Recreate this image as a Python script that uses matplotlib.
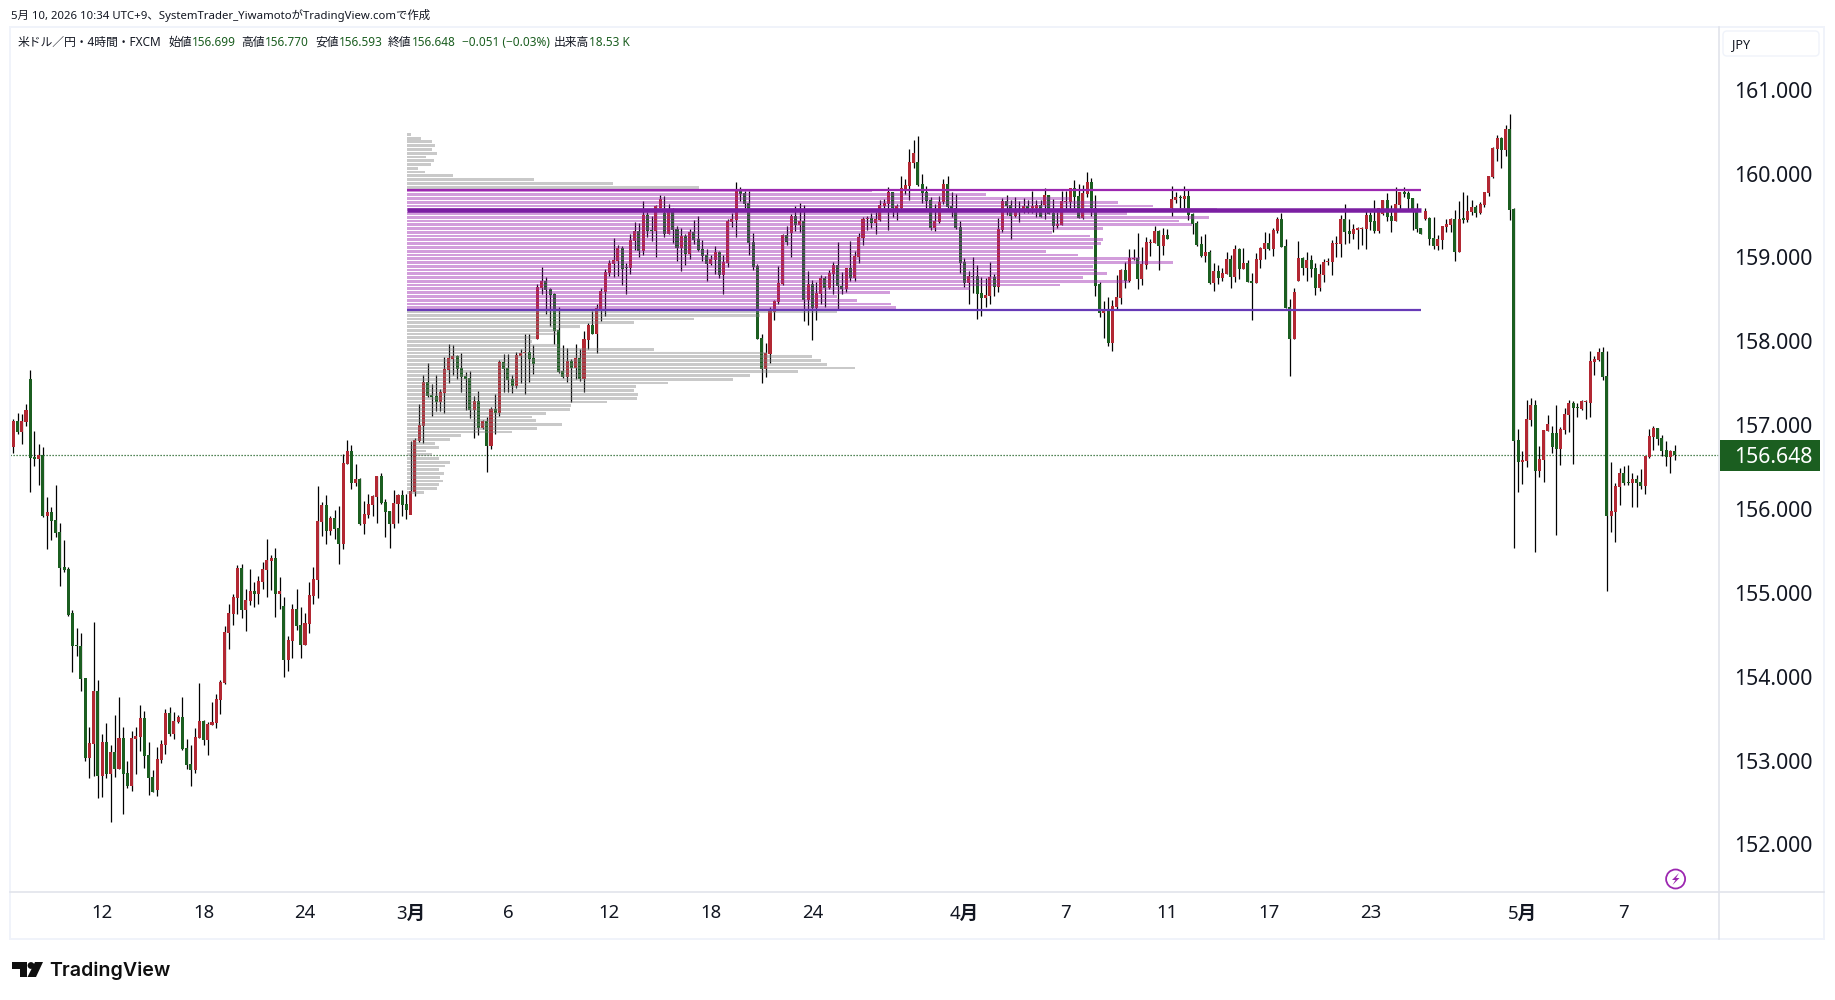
"""
USD/JPY 4H candlestick chart with a fixed-range volume profile
Output: out.png
"""

import numpy as np
import matplotlib
matplotlib.use("Agg")
import matplotlib.pyplot as plt
from matplotlib.patches import Circle, FancyBboxPatch, Polygon, Rectangle

plt.rcParams["font.family"] = ["Noto Sans", "Noto Sans CJK JP", "DejaVu Sans"]

# ── OHLC (4H) ────────────────────────────────────────────────────
opens = [
    156.74,157.05,156.92,157.04,157.56,156.63,156.60,156.65,155.92,155.97,
    155.87,155.73,155.31,155.29,154.76,154.38,154.37,153.99,153.04,153.20,
    153.84,152.82,153.23,152.85,153.11,152.91,153.28,152.86,152.70,153.26,
    153.29,153.51,153.07,152.81,152.66,153.01,153.19,153.57,153.32,153.47,
    153.53,153.16,152.97,152.89,153.28,153.48,153.25,153.43,153.45,153.73,
    153.93,154.53,154.75,154.94,155.30,154.80,154.91,155.03,154.99,155.14,
    155.28,155.38,155.42,154.99,154.85,154.21,154.43,154.81,154.62,154.38,
    154.63,154.97,155.16,155.85,156.05,155.74,155.90,155.78,155.59,156.54,
    156.70,156.32,156.36,155.83,155.93,156.05,156.15,156.40,156.09,155.98,
    155.83,156.07,156.17,156.07,155.93,156.21,156.82,157.00,157.52,
    157.36,157.35,157.28,157.39,157.66,157.80,157.83,157.69,157.59,157.57,
    157.19,157.29,156.97,157.05,156.76,157.20,157.15,157.76,157.69,157.56,
    157.47,157.83,157.87,157.88,157.81,158.03,158.64,158.72,158.63,158.57,
    158.14,157.65,157.58,157.77,157.69,157.81,157.56,158.02,158.20,158.09,
    158.39,158.59,158.82,158.93,158.96,159.12,158.89,158.88,159.20,159.32,
    159.08,159.51,159.33,159.32,159.60,159.53,159.28,159.55,159.34,159.12,
    159.26,159.05,159.31,159.22,159.10,159.03,158.93,158.98,159.07,158.80,
    158.94,159.43,159.45,159.80,159.77,159.65,159.19,158.90,158.04,157.68,
    157.85,158.35,158.47,158.69,159.27,159.30,159.50,159.39,159.44,158.50,
    158.69,158.40,158.57,158.76,158.64,158.81,158.91,158.67,158.63,158.88,
    158.76,159.01,159.24,159.46,159.47,159.41,159.45,159.62,159.64,159.79,
    159.57,159.60,159.82,159.86,160.13,160.14,159.88,159.79,159.69,159.36,
    159.43,159.67,159.88,159.62,159.59,159.37,158.95,158.70,158.78,158.78,
    158.58,158.52,158.55,158.77,158.65,159.33,159.68,159.63,159.50,159.56,
    159.57,159.62,159.60,159.60,159.63,159.63,159.75,159.53,159.38,159.39,
    159.67,159.67,159.83,159.74,159.47,159.76,159.90,159.59,158.69,158.34,
    158.37,157.99,158.41,158.52,158.86,158.72,158.99,159.00,158.75,158.92,
    159.18,159.18,159.32,159.14,159.27,159.59,159.69,159.73,159.70,159.74,
    159.52,159.41,159.16,159.02,159.07,158.70,158.84,158.76,158.81,158.99,
    158.77,159.11,158.87,158.94,158.72,158.70,158.97,159.11,159.18,159.11,
    159.32,159.46,159.14,158.41,158.03,158.72,159.00,158.88,158.97,158.88,
    158.64,158.80,158.95,158.95,159.17,159.17,159.46,159.32,159.29,159.33,
    159.34,159.34,159.51,159.44,159.32,159.52,159.69,159.50,159.44,159.63,
    159.79,159.77,159.71,159.55,159.36,159.46,159.47,159.24,159.14,159.21,
    159.37,159.39,159.46,159.07,159.47,159.45,159.55,159.61,159.53,159.63,
    159.77,159.96,160.30,160.43,160.29,160.54,159.58,156.83,156.57,156.58,
    157.07,157.25,156.46,156.59,156.93,156.91,156.91,156.72,156.95,157.13,
    157.27,157.22,157.20,157.28,157.27,157.76,157.78,157.88,157.59,155.92,
    155.97,156.27,156.43,156.33,156.32,156.36,156.33,156.28,156.63,156.86,
    156.97,156.85,156.71,156.63,156.699,
]
highs = [
    157.08,157.15,157.14,157.26,157.66,156.94,156.78,156.74,156.15,156.03,
    156.29,155.84,155.64,155.31,154.80,154.59,154.53,153.99,153.41,154.66,
    153.97,153.32,153.45,153.19,153.55,153.76,153.41,153.00,153.36,153.41,
    153.67,153.60,153.23,152.89,153.17,153.25,153.62,153.64,153.58,153.55,
    153.76,153.26,153.19,153.39,153.93,153.49,153.47,153.70,153.80,153.97,
    154.61,154.87,154.99,155.34,155.35,155.05,155.29,155.14,155.21,155.37,
    155.65,155.46,155.54,155.20,154.96,154.49,154.87,155.05,154.84,154.76,
    155.14,155.31,156.28,156.09,156.17,155.92,155.99,156.04,156.66,156.83,
    156.77,156.54,156.37,156.10,156.18,156.17,156.40,156.43,156.12,155.98,
    156.23,156.18,156.23,156.18,156.82,156.85,157.26,157.60,157.75,
    157.50,157.60,157.44,157.82,157.97,157.96,157.84,157.87,157.64,157.65,
    157.35,157.41,157.07,157.10,157.22,157.38,157.78,157.85,157.85,157.60,
    157.88,157.91,158.09,158.09,157.96,158.69,158.89,158.77,158.64,158.58,
    158.41,157.96,157.93,157.79,157.97,157.91,158.13,158.22,158.37,158.45,
    158.64,158.87,158.97,159.24,159.15,159.14,158.94,159.28,159.43,159.42,
    159.68,159.55,159.50,159.63,159.75,159.74,159.64,159.59,159.38,159.36,
    159.28,159.34,159.45,159.50,159.21,159.10,159.03,159.14,159.08,159.03,
    159.46,159.53,159.90,159.84,159.80,159.80,159.30,158.93,158.09,157.98,
    158.41,158.50,158.90,159.28,159.38,159.52,159.62,159.65,159.63,158.84,
    158.74,158.71,158.80,158.78,158.86,158.95,159.19,158.83,158.88,159.20,
    159.08,159.30,159.49,159.50,159.53,159.55,159.69,159.70,159.85,159.79,
    159.64,159.98,159.94,160.30,160.41,160.45,160.00,159.86,159.73,159.64,
    159.74,159.94,159.98,159.79,159.76,159.44,159.00,158.84,159.01,158.91,
    158.77,158.76,158.95,158.81,159.47,159.71,159.75,159.69,159.73,159.68,
    159.71,159.69,159.80,159.69,159.69,159.83,159.75,159.70,159.55,159.80,
    159.80,159.83,159.93,159.88,159.87,160.02,159.95,159.75,158.71,158.49,
    158.53,158.50,158.80,158.87,158.95,159.11,159.11,159.30,159.13,159.25,
    159.23,159.38,159.33,159.36,159.34,159.86,159.79,159.75,159.86,159.81,
    159.53,159.44,159.26,159.28,159.09,158.94,158.91,158.88,159.07,159.03,
    159.15,159.12,159.12,158.97,158.82,159.06,159.13,159.31,159.30,159.36,
    159.49,159.53,159.23,158.51,158.64,159.20,159.01,159.07,159.03,158.94,
    158.93,158.99,159.00,159.21,159.26,159.51,159.64,159.46,159.40,159.37,
    159.37,159.56,159.55,159.69,159.59,159.69,159.77,159.63,159.84,159.79,
    159.84,159.80,159.71,159.65,159.36,159.59,159.49,159.49,159.27,159.38,
    159.46,159.47,159.57,159.68,159.79,159.75,159.69,159.63,159.67,159.79,
    159.98,160.32,160.46,160.44,160.58,160.72,159.59,156.96,156.70,157.31,
    157.33,157.31,156.76,156.95,157.13,156.99,157.25,156.98,157.21,157.31,
    157.29,157.27,157.31,157.31,157.89,157.83,157.93,157.94,157.89,156.57,
    156.31,156.49,156.52,156.53,156.43,156.41,156.48,156.64,156.96,156.99,
    156.97,156.89,156.82,156.71,156.770,
]
lows = [
    156.67,156.90,156.78,157.00,156.21,156.52,156.29,155.91,155.53,155.64,
    155.67,155.09,155.25,154.73,154.06,154.25,153.84,153.00,152.80,152.82,
    152.56,152.57,152.80,152.27,152.81,152.91,152.37,152.68,152.64,152.85,
    153.12,152.92,152.60,152.63,152.58,152.98,153.08,153.30,153.26,153.45,
    153.13,152.91,152.70,152.86,153.28,153.19,153.07,153.43,153.39,153.56,
    153.92,154.34,154.62,154.75,154.71,154.55,154.86,154.84,154.87,155.05,
    154.96,155.04,154.72,154.81,154.00,154.07,154.23,154.56,154.23,154.38,
    154.53,154.87,154.94,155.68,155.59,155.70,155.65,155.35,155.53,156.54,
    156.24,156.28,155.82,155.71,155.90,155.92,155.84,156.07,155.67,155.54,
    155.78,155.84,155.92,155.89,156.22,156.16,156.80,156.79,157.34,
    157.11,157.17,157.17,157.15,157.51,157.60,157.56,157.40,157.19,157.09,
    156.85,156.89,156.96,156.45,156.72,156.90,157.11,157.40,157.40,157.39,
    157.45,157.51,157.38,157.52,157.62,158.03,158.57,158.33,158.19,157.97,
    157.63,157.57,157.52,157.28,157.56,157.53,157.40,157.91,158.09,157.87,
    158.25,158.31,158.78,158.77,158.78,158.68,158.57,158.81,159.09,159.01,
    159.03,159.25,159.20,159.01,159.59,159.25,159.28,159.18,158.96,158.84,
    158.91,158.99,159.17,159.08,158.96,158.72,158.91,158.81,158.76,158.57,
    158.89,159.37,159.25,159.68,159.59,159.03,158.86,158.03,157.51,157.58,
    157.75,158.26,158.45,158.68,159.15,159.01,159.32,159.31,158.25,158.20,
    158.02,158.26,158.45,158.41,158.63,158.57,158.38,158.57,158.59,158.72,
    158.72,158.94,159.15,159.33,159.36,159.29,159.44,159.60,159.33,159.49,
    159.45,159.57,159.76,159.69,160.07,159.86,159.65,159.59,159.33,159.32,
    159.42,159.64,159.59,159.49,159.34,158.82,158.65,158.45,158.58,158.27,
    158.31,158.41,158.45,158.54,158.59,159.31,159.51,159.23,159.49,159.43,
    159.53,159.53,159.53,159.49,159.49,159.46,159.52,159.31,159.36,159.39,
    159.58,159.59,159.59,159.47,159.46,159.73,159.50,158.54,158.30,158.04,
    157.95,157.89,158.39,158.45,158.64,158.71,158.97,158.63,158.68,158.87,
    159.02,159.18,158.86,159.03,159.23,159.50,159.65,159.59,159.59,159.45,
    159.28,159.14,159.01,158.95,158.69,158.60,158.69,158.72,158.81,158.64,
    158.71,158.75,158.87,158.71,158.26,158.70,158.88,158.99,159.09,159.02,
    159.30,159.13,158.40,157.59,158.03,158.72,158.80,158.72,158.77,158.56,
    158.60,158.71,158.91,158.80,159.01,159.01,159.17,159.18,159.22,159.11,
    159.15,159.11,159.33,159.30,159.30,159.51,159.44,159.31,159.44,159.58,
    159.73,159.58,159.33,159.31,159.29,159.45,159.15,159.11,159.09,159.11,
    159.31,159.31,158.96,159.07,159.42,159.43,159.51,159.49,159.52,159.61,
    159.74,159.95,160.15,160.07,160.21,159.45,155.54,156.21,156.30,156.51,
    156.99,155.49,156.39,156.33,156.93,156.67,155.70,156.53,156.90,156.92,
    156.54,157.10,157.19,157.08,157.10,157.60,157.77,157.54,155.03,155.73,
    155.61,156.05,156.29,156.29,156.03,156.03,156.24,156.18,156.61,156.71,
    156.77,156.64,156.52,156.44,156.593,
]
closes = [
    157.05,156.92,157.05,157.19,156.61,156.60,156.65,155.92,155.97,155.86,
    155.72,155.30,155.28,154.74,154.37,154.37,153.98,153.04,153.22,153.84,
    152.82,153.23,152.85,153.11,152.91,153.28,152.85,152.70,153.28,153.30,
    153.51,153.06,152.80,152.63,153.02,153.20,153.57,153.32,153.48,153.53,
    153.14,152.95,152.89,153.29,153.48,153.25,153.44,153.47,153.74,153.94,
    154.54,154.76,154.96,155.30,154.80,154.92,155.03,154.99,155.15,155.29,
    155.40,155.42,154.99,155.03,154.21,154.44,154.81,154.61,154.38,154.65,
    154.98,155.17,155.86,156.05,155.74,155.90,155.77,155.59,156.55,156.70,
    156.32,156.36,155.83,155.95,156.07,156.16,156.40,156.08,155.97,155.83,
    156.08,156.17,156.05,155.99,156.22,156.83,157.01,157.52,157.35,
    157.34,157.28,157.40,157.67,157.81,157.83,157.67,157.58,157.56,157.19,
    157.29,156.97,157.05,156.76,157.20,157.15,157.76,157.67,157.54,157.47,
    157.84,157.87,157.88,157.80,157.74,158.65,158.72,158.62,158.56,158.13,
    157.64,157.58,157.77,157.69,157.81,157.56,158.03,158.20,158.09,158.40,
    158.60,158.83,158.94,158.97,159.12,158.87,158.88,159.21,159.32,159.08,
    159.51,159.32,159.32,159.62,159.70,159.28,159.55,159.33,159.12,159.26,
    159.05,159.31,159.21,159.09,159.02,158.93,158.99,159.07,158.80,158.95,
    159.44,159.46,159.80,159.76,159.64,159.18,158.89,158.03,157.68,157.87,
    158.37,158.49,158.70,159.27,159.19,159.50,159.39,159.44,158.50,158.69,
    158.40,158.58,158.76,158.64,158.82,158.91,158.66,158.63,158.88,158.76,
    159.02,159.25,159.46,159.47,159.41,159.46,159.63,159.65,159.79,159.59,
    159.62,159.83,159.87,160.14,160.25,159.87,159.77,159.68,159.36,159.44,
    159.67,159.88,159.61,159.58,159.36,158.94,158.70,158.78,158.77,158.57,
    158.52,158.56,158.77,158.65,159.34,159.68,159.62,159.50,159.55,159.57,
    159.62,159.57,159.62,159.63,159.49,159.75,159.52,159.38,159.40,159.68,
    159.68,159.83,159.73,159.47,159.77,159.90,159.59,158.67,158.34,158.37,
    157.99,158.43,158.53,158.86,158.72,159.00,159.00,158.75,158.93,159.19,
    159.19,159.32,159.14,159.27,159.23,159.70,159.73,159.71,159.74,159.51,
    159.40,159.15,159.02,159.07,158.70,158.84,158.76,158.82,158.99,158.77,
    159.11,158.87,158.94,158.71,158.70,158.99,159.12,159.18,159.11,159.33,
    159.46,159.13,158.40,158.03,158.59,159.00,158.88,158.97,158.87,158.64,
    158.81,158.95,158.96,159.18,159.18,159.46,159.31,159.29,159.34,159.36,
    159.36,159.51,159.43,159.32,159.59,159.69,159.49,159.44,159.64,159.79,
    159.76,159.70,159.55,159.34,159.29,159.56,159.23,159.14,159.23,159.38,
    159.40,159.46,159.07,159.46,159.45,159.56,159.61,159.53,159.64,159.79,
    159.98,160.31,160.43,160.29,160.54,159.57,156.82,156.57,156.59,157.08,
    157.25,156.46,156.60,156.95,157.02,156.74,156.72,156.96,157.14,157.27,
    157.21,157.21,157.29,157.29,157.77,157.79,157.88,157.58,155.92,155.98,
    156.28,156.43,156.32,156.32,156.36,156.32,156.28,156.64,156.88,156.97,
    156.84,156.70,156.63,156.70,156.648,
]

# ── Volume profile, rows listed from the top price down ──────────
vp_top = 160.473
vp_bottom = 156.204
vp_first_bar = 93.2
vp_last_bar = 333.0
vp_volume = [
    0.9,3.3,5.9,6.6,5.9,7.1,4.5,6.4,5.7,2.6,4.3,10.7,29.9,48.6,69.0,
    110.0,137.0,157.2,168.2,176.4,191.5,170.2,189.6,182.5,185.6,164.5,
    152.4,161.4,164.5,164.2,162.3,151.0,158.6,173.3,181.1,162.3,163.2,
    165.5,159.8,170.8,154.3,133.1,114.1,101.7,106.5,114.5,115.7,
    101.7,83.5,67.8,53.6,40.8,36.0,35.3,30.5,29.4,36.0,58.3,85.1,95.8,
    97.9,99.4,106.0,92.5,81.1,77.1,61.7,54.1,53.6,54.5,54.3,47.2,38.7,
    38.4,32.7,29.4,30.4,36.5,30.6,24.7,12.6,10.0,6.6,7.6,4.5,5.9,7.6,
    10.0,9.0,7.6,8.8,7.8,8.5,7.6,7.1,4.0,
]
vah = 159.809
poc = 159.571
val = 158.378

# ── Axis labels ──────────────────────────────────────────────────
price_ticks = [152, 153, 154, 155, 156, 157, 158, 159, 160, 161]
time_ticks = [21, 45, 69, 94, 117, 141, 165, 189, 225, 249, 273, 297, 321, 357, 381]
time_labels = ["12", "18", "24", "3月", "6", "12", "18", "24", "4月", "7", "11", "17", "23", "5月", "7"]
last_price = 156.648

RED = "#b22833"
GREEN = "#1b5e20"
TEXT = "#131722"

# ── Layout in pixels: the chart pane is 10-1719 wide, 27-892 tall ─
W, H = 1835, 1000
fig = plt.figure(figsize=(W / 100, H / 100), dpi=100, facecolor="white")
PX = 0.72

ax = fig.add_axes([10 / W, 1 - 892 / H, 1709 / W, 865 / H])
ax.set_xlim(-0.78, 403.5)
ax.set_ylim(151.439, 161.753)
for s in ax.spines.values():
    s.set_visible(False)
ax.tick_params(length=0)
ax.set_yticks([])
ax.set_xticks(time_ticks)
ax.set_xticklabels(time_labels, fontsize=13.4, color=TEXT)
ax.tick_params(axis="x", pad=9)
for lab in ax.get_xticklabels():
    if "月" in lab.get_text():
        lab.set_fontweight("bold")

o = np.array(opens)
h = np.array(highs)
l = np.array(lows)
c = np.array(closes)
x = np.arange(len(o))
colors = [RED if cl >= op else GREEN for op, cl in zip(o, c)]

# 現在値の点線はローソクの下に
ax.axhline(last_price, color=GREEN, lw=1.25 * PX, ls=(0, (1, 1.4)), zorder=1)

# wicks, then bodies (a doji still gets one pixel of body)
ax.vlines(x, l, h, color="black", lw=1.25 * PX, zorder=2)
body_h = np.maximum(np.abs(c - o), 0.012)
ax.bar(x, body_h, bottom=np.minimum(o, c), width=0.72, color=colors, linewidth=0, zorder=3)

# translucent profile rows lie over the candles
levels = np.linspace(vp_top, vp_bottom, len(vp_volume))
step = (vp_top - vp_bottom) / (len(vp_volume) - 1)
row_colors = ["#9c27b0" if val <= p <= vah else "#808080" for p in levels]
row_alpha = [0.45 if val <= p <= vah else 0.42 for p in levels]
for p, v, rc, ra in zip(levels, vp_volume, row_colors, row_alpha):
    ax.barh(p, v, left=vp_first_bar, height=step * 0.74, color=rc, alpha=ra, linewidth=0, zorder=4)

ax.hlines(vah, vp_first_bar, vp_last_bar, color="#9c27b0", lw=2.2 * PX, zorder=5)
ax.hlines(poc, vp_first_bar, vp_last_bar, color="#7b1fa2", lw=4.5 * PX, zorder=5)
ax.hlines(val, vp_first_bar, vp_last_bar, color="#673ab7", lw=2.2 * PX, zorder=5)

# ── Frame, price scale and header on a pixel overlay ─────────────
ov = fig.add_axes([0, 0, 1, 1], facecolor="none")
ov.set_xlim(0, W)
ov.set_ylim(H, 0)
ov.axis("off")

ov.add_patch(Rectangle((10, 27), 1814, 912, fill=False, ec="#f0f3fa", lw=2 * PX))
ov.plot([1719, 1719], [27, 939], color="#e0e3eb", lw=1.6 * PX)
ov.plot([10, 1824], [892, 892], color="#e0e3eb", lw=1.6 * PX)


def py(price):
    # price to pixel row, through the chart axes transform
    return H - ax.transData.transform((0, price))[1]


for t in price_ticks:
    ov.text(1734, py(t) - 0.5, f"{t:.3f}", fontsize=15.3, color=TEXT, ha="left", va="center_baseline")

ov.add_patch(Rectangle((1720, 440), 100, 31, fc=GREEN, ec="none"))
ov.text(1734, py(last_price), f"{last_price:.3f}", fontsize=15.3, color="white", ha="left", va="center_baseline")

ov.add_patch(FancyBboxPatch((1724, 32), 94, 23, boxstyle="round,pad=1,rounding_size=4", fc="white", ec="#f0f3fa", lw=1.4 * PX))
ov.text(1732, 43.5, "JPY", fontsize=9, color=TEXT, ha="left", va="center_baseline")

ov.text(11, 14.5, "5月 10, 2026 10:34 UTC+9、SystemTrader_YiwamotoがTradingView.comで作成",
        fontsize=8.2, color=TEXT, ha="left", va="center_baseline")

# header: pairs of (x, text, colour)
header = [
    (18, "米ドル／円・4時間・FXCM", TEXT),
    (168, "始値", TEXT), (192, "156.699", GREEN),
    (241, "高値", TEXT), (265, "156.770", GREEN),
    (315, "安値", TEXT), (339, "156.593", GREEN),
    (388, "終値", TEXT), (412, "156.648", GREEN),
    (462, "−0.051 (−0.03%)", GREEN),
    (554, "出来高", TEXT), (589, "18.53 K", GREEN),
]
for hx, txt, col in header:
    ov.text(hx, 41, txt, fontsize=8.5, color=col, ha="left", va="center_baseline")

# lightning badge
ov.add_patch(Circle((1675.6, 879), 9.5, fill=False, ec="#9c27b0", lw=1.8 * PX))
ov.add_patch(Polygon([(1679, 873), (1672, 880), (1675.5, 880), (1672.5, 885), (1679.5, 878), (1676, 878)],
                     closed=True, fc="#9c27b0", ec="none"))

# TradingView mark and wordmark
ov.add_patch(Polygon([(12, 962), (27, 962), (27, 977), (20, 977), (20, 969), (12, 969)], closed=True, fc="#0f0f0f", ec="none"))
ov.add_patch(Circle((31, 965.5), 3.4, fc="#0f0f0f", ec="none"))
ov.add_patch(Polygon([(35, 962), (43, 962), (36, 977), (27.5, 977)], closed=True, fc="#0f0f0f", ec="none"))
ov.text(49, 968.5, "TradingView", fontsize=14.1, fontweight="semibold", family="Inter", color="#0f0f0f",
        ha="left", va="center_baseline")

plt.savefig("out.png", dpi=100)
